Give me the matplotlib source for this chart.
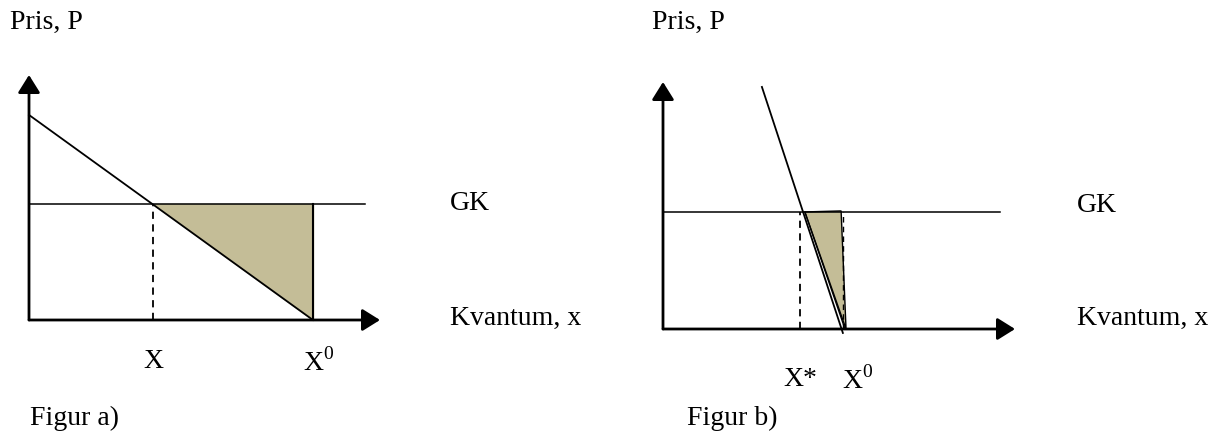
#!/usr/bin/env python3
# Two welfare-loss sketches (Figur a / Figur b) redrawn with matplotlib

import matplotlib.pyplot as plt
import numpy as np

plt.rcParams['font.family'] = ['Liberation Serif', 'DejaVu Serif']
plt.rcParams['mathtext.fontset'] = 'custom'
plt.rcParams['mathtext.rm'] = 'Liberation Serif'

# Figur a) values (axis units 0..10)
a_demand_q = [0.0, 8.09]
a_demand_p = [8.37, 0.0]
a_gk = 4.73
a_gk_end = 9.57
a_x = 3.53
a_x0 = 8.09

# Figur b) values
b_demand_q = [2.81, 5.11]
b_demand_p = [9.80, -0.16]
b_gk = 4.74
b_gk_end = 9.57
b_xstar = 3.89
b_x0 = 5.11
b_inner_q = [4.03, 5.17]
b_inner_p = [4.74, 0.0]
b_tri_q = [4.03, 5.06, 5.20]
b_tri_p = [4.74, 4.78, 0.0]

fill_col = '#c4bd97'
W, H = 1223, 438

fig = plt.figure(figsize=(W / 100, H / 100), dpi=100)


def make_axes(left, bottom, right, top):
    ax = fig.add_axes([left / W, 1 - bottom / H, (right - left) / W, (bottom - top) / H])
    ax.set_xlim(0, 10)
    ax.set_ylim(0, 10)
    ax.axis('off')
    arr = dict(arrowstyle='-|>,head_length=0.4,head_width=0.25', lw=2.0, color='k',
               mutation_scale=27, shrinkA=0, shrinkB=0)
    ax.annotate('', xy=(10, 0), xytext=(0, 0), arrowprops=arr, annotation_clip=False)
    ax.annotate('', xy=(0, 10), xytext=(0, 0), arrowprops=arr, annotation_clip=False)
    return ax


# --- Figur a)
ax = make_axes(29, 320, 380, 75)
ax.fill([a_x, a_x0, a_x0], [a_gk, a_gk, 0], color=fill_col, zorder=1)
ax.plot([0, a_gk_end], [a_gk, a_gk], color='k', lw=1.1, clip_on=False)
ax.plot(a_demand_q, a_demand_p, color='k', lw=1.3, clip_on=False)
ax.plot([a_x, a_x], [0, a_gk], color='k', lw=1.3, ls=(0, (4, 3)))
ax.plot([a_x0, a_x0], [0, a_gk], color='k', lw=1.5)

# --- Figur b)
bx = make_axes(663, 329, 1015, 82)
bx.fill(b_tri_q, b_tri_p, facecolor=fill_col, edgecolor='k', lw=1.0, zorder=1)
bx.plot([0, b_gk_end], [b_gk, b_gk], color='k', lw=1.1, clip_on=False)
bx.plot(b_demand_q, b_demand_p, color='k', lw=1.3, clip_on=False)
bx.plot(b_inner_q, b_inner_p, color='k', lw=1.0)
bx.plot([b_xstar, b_xstar], [0, b_gk], color='k', lw=1.3, ls=(0, (4, 3)))
bx.plot([b_x0, b_x0], [0, b_gk], color='k', lw=1.0, ls=(0, (4, 3)))

# --- texts
fs = 20


def txt(x, y, s, **kw):
    fig.text(x / W, 1 - y / H, s, fontsize=fs, va='center', **kw)


txt(10, 22, 'Pris, P')
txt(652, 22, 'Pris, P')
txt(450, 204, 'GK')
txt(450, 318, 'Kvantum, x')
txt(1077, 206, 'GK')
txt(1077, 318, 'Kvantum, x')
txt(143, 362, 'X')
txt(303, 362, r'X$^{\mathrm{0}}$')
txt(783, 380, 'X*')
txt(842, 380, r'X$^{\mathrm{0}}$')
txt(30, 418, 'Figur a)')
txt(687, 418, 'Figur b)')

fig.savefig('out.png', dpi=100)
